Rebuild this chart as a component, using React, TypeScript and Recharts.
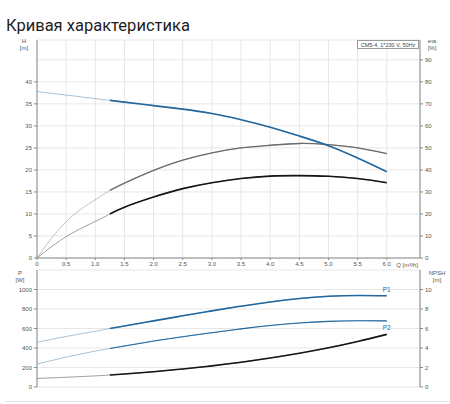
import React from "react";
import { ComposedChart, Line, XAxis, YAxis, CartesianGrid } from "recharts";

// flow points, m³/h
const flow = [0, 0.5, 1.0, 1.25, 1.5, 2.0, 2.5, 3.0, 3.5, 4.0, 4.5, 5.0, 5.5, 6.0];
// head H [m]
const head = [37.8, 37.0, 36.2, 35.8, 35.4, 34.6, 33.8, 32.8, 31.4, 29.7, 27.7, 25.5, 22.7, 19.6];
// efficiency, upper grey curve [%]
const etaPump = [0, 16.5, 26.5, 30.7, 34.0, 39.8, 44.4, 47.7, 50.0, 51.2, 52.0, 51.5, 50.0, 47.4];
// efficiency, lower black curve [%]
const etaTotal = [0, 9.7, 16.6, 20.0, 23.1, 27.7, 31.5, 34.2, 36.1, 37.2, 37.4, 37.1, 36.1, 34.2];
// power P1 / P2 [W]
const powerP1 = [459, 518, 572, 600, 626, 678, 730, 781, 829, 872, 907, 930, 939, 936];
const powerP2 = [235, 306, 368, 395, 421, 471, 516, 557, 596, 630, 657, 673, 680, 678];
// NPSH [m]
const npsh = [0.88, 1.0, 1.14, 1.23, 1.33, 1.57, 1.85, 2.17, 2.54, 2.97, 3.46, 4.02, 4.67, 5.4];

const qTicks = [0, 0.5, 1, 1.5, 2, 2.5, 3, 3.5, 4, 4.5, 5, 5.5, 6];
const hTicks = [0, 5, 10, 15, 20, 25, 30, 35, 40];
const etaTicks = [0, 10, 20, 30, 40, 50, 60, 70, 80, 90];
const pTicks = [0, 200, 400, 600, 800, 1000];
const npshTicks = [0, 2, 4, 6, 8, 10];

const DUTY_START = 1.25;

// thin line runs over the whole curve, the bold one only over the duty range
const rows = flow.map((q, i) => {
  const r: Record<string, number | null> = { q };
  const series: [string, number[]][] = [
    ["h", head],
    ["e1", etaPump],
    ["e2", etaTotal],
    ["p1", powerP1],
    ["p2", powerP2],
    ["n", npsh],
  ];
  series.forEach(([k, v]) => {
    r[k + "Thin"] = v[i];
    r[k + "Bold"] = q >= DUTY_START ? v[i] : null;
  });
  return r;
});

const BLUE = "#22689e";
const GREY = "#6b6b6b";
const BLACK = "#151515";
const AXIS = "#8a8a8a";
const GRID = "#dcdcdc";
const FONT = "'Liberation Sans', Arial, sans-serif";
const tick = { fontSize: 6, fill: "#555", fontFamily: FONT };

const small: React.CSSProperties = {
  position: "absolute",
  fontFamily: FONT,
  fontSize: 6,
  color: "#555",
  lineHeight: "7px",
  textAlign: "center",
};

const pair = (key: string, color: string, yAxisId: string, bold = 1.6) => [
  <Line
    key={key + "t"}
    yAxisId={yAxisId}
    dataKey={key + "Thin"}
    type="natural"
    stroke={color}
    strokeOpacity={0.5}
    strokeWidth={0.8}
    dot={false}
    isAnimationActive={false}
  />,
  <Line
    key={key + "b"}
    yAxisId={yAxisId}
    dataKey={key + "Bold"}
    type="natural"
    stroke={color}
    strokeWidth={bold}
    dot={false}
    isAnimationActive={false}
  />,
];

const endLabel = (text: string, dy: number) => (props: any) =>
  props.index === flow.length - 1 ? (
    <text
      x={props.x - 4}
      y={props.y + dy}
      fontSize={6.5}
      fill={BLUE}
      fontFamily={FONT}
    >
      {text}
    </text>
  ) : null;

export default function App() {
  return (
    <div
      style={{
        position: "absolute",
        left: 0,
        top: 0,
        width: 450,
        height: 404,
        background: "#fff",
        overflow: "hidden",
      }}
    >
      <div
        style={{
          position: "absolute",
          left: 6,
          top: 17,
          fontFamily: "Roboto, sans-serif",
          fontSize: 16.5,
          lineHeight: "17px",
          color: "#1e1e1e",
          whiteSpace: "nowrap",
        }}
      >
        Кривая характеристика
      </div>

      <div style={{ position: "absolute", left: 0, top: 0 }}>
        <ComposedChart
          width={450}
          height={275}
          data={rows}
          margin={{ top: 40, right: 0, left: 17, bottom: 5 }}
        >
          <CartesianGrid yAxisId="eta" stroke={GRID} strokeWidth={0.7} />
          <XAxis
            dataKey="q"
            type="number"
            domain={[0, 6.57]}
            ticks={qTicks}
            tickFormatter={(v) => (v === 0 ? "0" : v.toFixed(1))}
            tick={tick}
            tickSize={2}
            height={12}
            stroke={AXIS}
            interval={0}
          />
          <XAxis
            xAxisId="top"
            dataKey="q"
            type="number"
            orientation="top"
            domain={[0, 6.57]}
            tick={false}
            height={0}
            stroke={AXIS}
          />
          <YAxis
            yAxisId="h"
            domain={[0, 49.5]}
            ticks={hTicks}
            tick={tick}
            tickSize={3}
            width={20}
            stroke={AXIS}
            interval={0}
          />
          <YAxis
            yAxisId="eta"
            orientation="right"
            domain={[0, 99]}
            ticks={etaTicks}
            tick={tick}
            tickSize={3}
            width={30}
            stroke={AXIS}
            interval={0}
          />
          {pair("e1", GREY, "eta", 1.3)}
          {pair("e2", BLACK, "eta", 1.6)}
          {pair("h", BLUE, "h", 1.6)}
        </ComposedChart>
      </div>

      <div style={{ position: "absolute", left: 0, top: 262 }}>
        <ComposedChart
          width={450}
          height={130}
          data={rows}
          margin={{ top: 8, right: 0, left: 17, bottom: 5 }}
        >
          <CartesianGrid yAxisId="p" stroke={GRID} strokeWidth={0.7} />
          <XAxis
            dataKey="q"
            type="number"
            domain={[0, 6.57]}
            ticks={qTicks}
            tick={false}
            tickLine={false}
            height={0}
            stroke={AXIS}
            interval={0}
          />
          <XAxis
            xAxisId="top"
            dataKey="q"
            type="number"
            orientation="top"
            domain={[0, 6.57]}
            tick={false}
            height={0}
            stroke={AXIS}
          />
          <YAxis
            yAxisId="p"
            domain={[0, 1200]}
            ticks={pTicks}
            tick={tick}
            tickSize={3}
            width={20}
            stroke={AXIS}
            interval={0}
          />
          <YAxis
            yAxisId="n"
            orientation="right"
            domain={[0, 12]}
            ticks={npshTicks}
            tick={tick}
            tickSize={3}
            width={30}
            stroke={AXIS}
            interval={0}
          />
          {pair("n", BLACK, "n", 1.6)}
          {pair("p2", BLUE, "p", 1.1)}
          {pair("p1", BLUE, "p", 1.6)}
          <Line
            yAxisId="p"
            dataKey="p1Bold"
            stroke="none"
            dot={false}
            label={endLabel("P1", -4)}
            isAnimationActive={false}
          />
          <Line
            yAxisId="p"
            dataKey="p2Bold"
            stroke="none"
            dot={false}
            label={endLabel("P2", 9)}
            isAnimationActive={false}
          />
        </ComposedChart>
      </div>

      <div
        style={{
          position: "absolute",
          left: 357,
          top: 40,
          width: 62,
          height: 9,
          border: "0.7px solid #999",
          boxSizing: "border-box",
          background: "#fff",
          fontFamily: FONT,
          fontSize: 5.5,
          lineHeight: "8px",
          color: "#444",
          textAlign: "center",
          whiteSpace: "nowrap",
        }}
      >
        CM5-4, 1*230 V, 50Hz
      </div>

      <div style={{ ...small, left: 18, top: 38, width: 12 }}>
        H<br />[m]
      </div>
      <div style={{ ...small, left: 424, top: 38, width: 16 }}>
        eta<br />[%]
      </div>
      <div style={{ ...small, left: 394, top: 262, width: 26, whiteSpace: "nowrap" }}>
        Q [m³/h]
      </div>
      <div style={{ ...small, left: 14, top: 270, width: 12 }}>
        P<br />[W]
      </div>
      <div style={{ ...small, left: 426, top: 270, width: 22 }}>
        NPSH<br />[m]
      </div>

      <div
        style={{
          position: "absolute",
          left: 5,
          right: 0,
          top: 401,
          borderTop: "1px solid #e2e2e2",
        }}
      />
    </div>
  );
}
